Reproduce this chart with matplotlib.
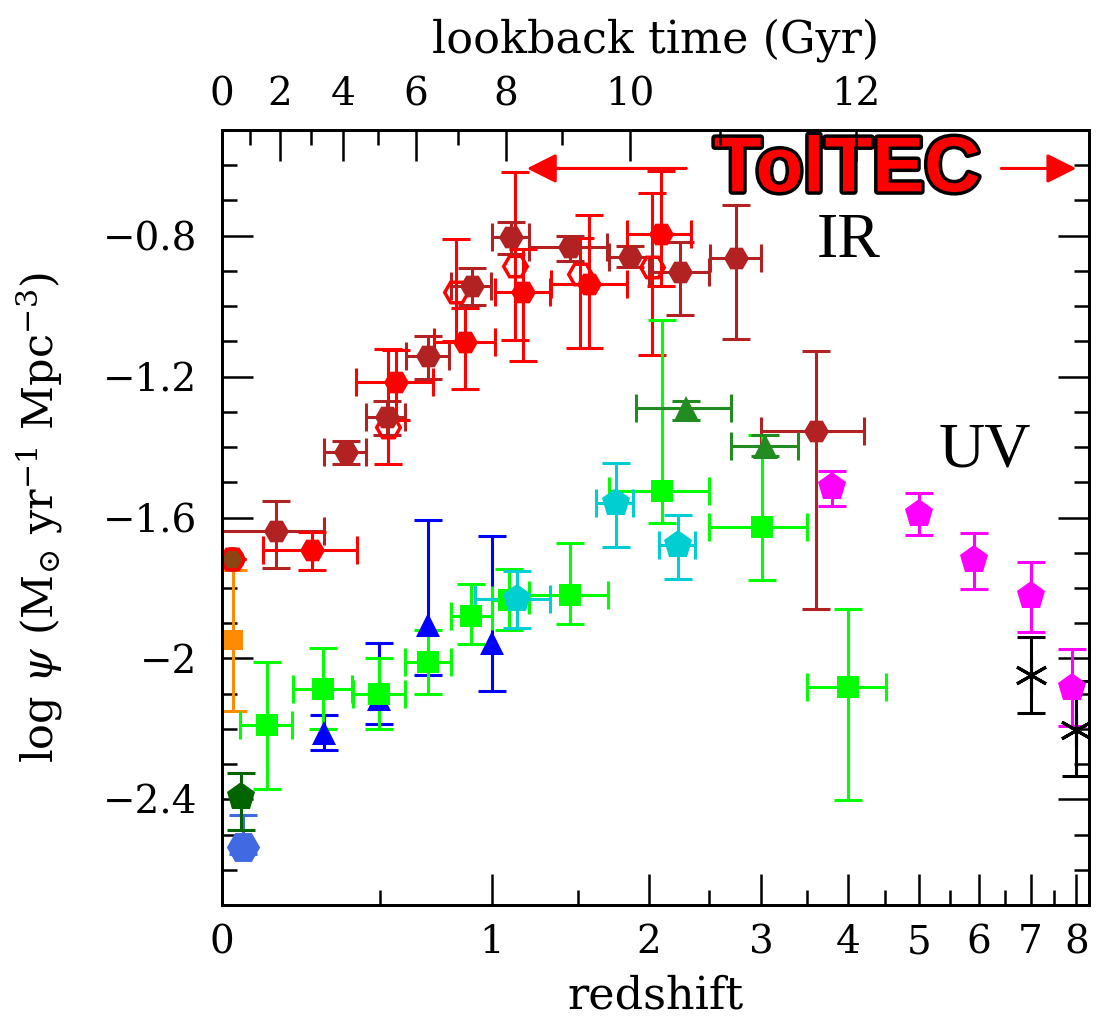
import numpy as np
import matplotlib
matplotlib.use('Agg')
import matplotlib.pyplot as plt
import matplotlib.ticker as mticker
import matplotlib.patheffects as pe

plt.rcParams['font.family'] = 'DejaVu Serif'
plt.rcParams['mathtext.fontset'] = 'dejavuserif'

# ---- data (z, log psi) ----
# IR: filled dark red hexagons
gru_z = [0.149, 0.377, 0.529, 0.699, 0.902, 1.10, 1.447, 1.852, 2.246, 2.748, 3.604]
gru_zlo = [0.0, 0.299, 0.448, 0.604, 0.804, 1.0, 1.2, 1.706, 2.0, 2.51, 3.0]
gru_zhi = [0.299, 0.448, 0.599, 0.792, 0.998, 1.2, 1.693, 2.024, 2.502, 3.004, 4.21]
gru_y = [-1.637, -1.415, -1.315, -1.142, -0.942, -0.805, -0.833, -0.859, -0.904, -0.862, -1.355]
gru_up = [0.083, 0.033, 0.047, 0.057, 0.051, 0.043, 0.033, 0.03, 0.087, 0.149, 0.229]
gru_dn = [0.106, 0.033, 0.05, 0.064, 0.055, 0.047, 0.038, 0.03, 0.12, 0.231, 0.504]

# IR: filled red hexagons
mag11_z = [0.26, 0.566, 0.867, 1.17, 1.57, 2.09]
mag11_zlo = [0.111, 0.413, 0.723, 1.02, 1.33, 1.836]
mag11_zhi = [0.415, 0.719, 1.02, 1.323, 1.836, 2.344]
mag11_y = [-1.692, -1.214, -1.101, -0.959, -0.937, -0.795]
mag11_up = [0.051, 0.09, 0.097, 0.12, 0.196, 0.18]
mag11_dn = [0.058, 0.11, 0.133, 0.196, 0.182, 0.147]

# IR: open red hexagons
mag13_z = [0.026, 0.533, 0.823, 1.122, 1.514, 2.018]
mag13_y = [-1.717, -1.344, -0.959, -0.887, -0.909, -0.888]
mag13_up = [0.0, 0.222, 0.15, 0.267, 0.102, 0.209]
mag13_dn = [0.0, 0.104, 0.14, 0.21, 0.21, 0.25]

san_z, san_y = [0.026], [-1.717]
tak_z, tak_y, tak_err = [0.0285], [-1.948], [0.2]

# UV
wyd_z, wyd_y, wyd_up, wyd_dn = [0.055], [-2.535], [0.09], [0.02]
rob_z, rob_y, rob_up, rob_dn = [0.05], [-2.393], [0.068], [0.095]

sch_z = [0.299, 0.4975, 0.697, 1.0]
sch_y = [-2.213, -2.114, -1.906, -1.956]
sch_up = [0.052, 0.158, 0.30, 0.303]
sch_dn = [0.047, 0.071, 0.140, 0.137]

cuc_z = [0.1226, 0.297, 0.4975, 0.697, 0.899, 1.09, 1.45, 2.097, 3.007, 4.003]
cuc_zlo = [0.048, 0.2, 0.4, 0.6, 0.8, 1.0, 1.2, 1.706, 2.5, 3.5]
cuc_zhi = [0.197, 0.397, 0.6, 0.8, 1.0, 1.2, 1.70, 2.5, 3.506, 4.51]
cuc_y = [-2.188, -2.088, -2.100, -2.010, -1.880, -1.835, -1.821, -1.526, -1.626, -2.081]
cuc_up = [0.178, 0.117, 0.1, 0.09, 0.09, 0.09, 0.15, 0.488, 0.259, 0.22]
cuc_dn = [0.182, 0.111, 0.1, 0.09, 0.078, 0.085, 0.08, 0.09, 0.151, 0.32]

dah_z = [1.136, 1.752, 2.23]
dah_zlo = [0.919, 1.614, 2.076]
dah_zhi = [1.327, 1.88, 2.372]
dah_y = [-1.831, -1.558, -1.679]
dah_up = [0.08, 0.113, 0.085]
dah_dn = [0.084, 0.125, 0.095]

red_z = [2.30, 3.04]
red_zlo = [1.897, 2.70]
red_zhi = [2.70, 3.40]
red_y = [-1.289, -1.396]
red_up = [0.02, 0.03]
red_dn = [0.033, 0.03]

bou_z = [3.806, 5.006, 5.91, 7.007, 7.91]
bou_y = [-1.513, -1.590, -1.72, -1.823, -2.084]
bou_up = [0.045, 0.06, 0.076, 0.096, 0.11]
bou_dn = [0.054, 0.061, 0.082, 0.102, 0.107]

she_z = [7.007, 7.99]
she_y = [-2.048, -2.204]
she_up = [0.11, 0.14]
she_dn = [0.107, 0.131]

# TolTEC coverage arrows (redshift)
toltec_left = (2.30, 1.19)
toltec_right = (6.42, 8.0)
toltec_y = -0.609

lookback_major = [0, 2, 4, 6, 8, 10, 12]
lookback_minor = [1, 3, 5, 7, 9, 11]
z_major = [0, 1, 2, 3, 4, 5, 6, 7, 8]
z_minor = [0.5, 1.5, 2.5, 3.5, 4.5, 5.5, 6.5, 7.5]


def fwd(z):
    return np.log10(1 + np.asarray(z, dtype=float))


def inv(x):
    return 10 ** np.asarray(x, dtype=float) - 1


# flat LCDM, H0=70, Om=0.3
H0, Om, OL = 70.0, 0.3, 0.7
tH = 977.8 / H0


def age(z):
    return 2 / 3 * tH / np.sqrt(OL) * np.arcsinh(np.sqrt(OL / Om) * (1 + z) ** -1.5)


def z_of_lookback(tl):
    a = age(0) - np.asarray(tl, dtype=float)
    s = np.sinh(a * 1.5 * np.sqrt(OL) / tH)
    return (s / np.sqrt(OL / Om)) ** (-2 / 3) - 1


def xe(z, lo, hi):
    z = np.array(z)
    return [z - np.array(lo), np.array(hi) - z]


def points(ax, z, y, marker, color, ms, xerr=None, yerr=None, open_marker=False):
    c = ax.errorbar(z, y, xerr=xerr, yerr=yerr, fmt=marker, color=color, ms=ms,
                    capsize=10, elinewidth=2.2, capthick=2.2, linestyle='none')
    if open_marker:
        c[0].set_markerfacecolor('none')
        c[0].set_markeredgewidth(2.5)
    else:
        c[0].set_markeredgewidth(0)
    return c


fig = plt.figure(figsize=(11.02, 10.24), dpi=100)
ax = fig.add_axes([0.2015, 0.1162, 0.7868, 0.7568])
ax.set_xscale('function', functions=(fwd, inv))
ax.set_xlim(0, 8.3)
ax.set_ylim(-2.7, -0.5)

points(ax, tak_z, tak_y, 's', 'darkorange', 14, yerr=tak_err)
points(ax, san_z, san_y, 'o', 'saddlebrown', 18)
points(ax, mag13_z, mag13_y, 'H', 'red', 17, yerr=[mag13_dn, mag13_up], open_marker=True)
points(ax, gru_z, gru_y, 'H', 'firebrick', 18, xerr=xe(gru_z, gru_zlo, gru_zhi), yerr=[gru_dn, gru_up])
points(ax, mag11_z, mag11_y, 'H', 'red', 18, xerr=xe(mag11_z, mag11_zlo, mag11_zhi),
       yerr=[mag11_dn, mag11_up])

points(ax, wyd_z, wyd_y, 'H', 'royalblue', 24, yerr=[wyd_dn, wyd_up])
points(ax, rob_z, rob_y, 'p', 'darkgreen', 21, yerr=[rob_dn, rob_up])
points(ax, sch_z, sch_y, '^', 'blue', 17, yerr=[sch_dn, sch_up])
points(ax, cuc_z, cuc_y, 's', 'lime', 16, xerr=xe(cuc_z, cuc_zlo, cuc_zhi), yerr=[cuc_dn, cuc_up])
points(ax, dah_z, dah_y, 'p', 'darkturquoise', 21, xerr=xe(dah_z, dah_zlo, dah_zhi), yerr=[dah_dn, dah_up])
points(ax, red_z, red_y, '^', 'forestgreen', 18, xerr=xe(red_z, red_zlo, red_zhi), yerr=[red_dn, red_up])
points(ax, bou_z, bou_y, 'p', 'magenta', 21, yerr=[bou_dn, bou_up])
ax.errorbar(she_z, she_y, yerr=[she_dn, she_up], fmt='none', ecolor='black', capsize=10,
            elinewidth=2.2, capthick=2.2)
ax.plot(she_z, she_y, linestyle='none', marker=(6, 2, 0), color='black', ms=24, mew=2.2)

# TolTEC arrows and labels
for x0, x1 in (toltec_left, toltec_right):
    ax.annotate('', xy=(x1, toltec_y), xytext=(x0, toltec_y),
                arrowprops=dict(arrowstyle='-|>', color='red', lw=2.2, mutation_scale=45,
                                shrinkA=0, shrinkB=0))
t = ax.text(3.99, -0.674, 'TolTEC', ha='center', va='baseline', color='red', fontsize=56,
            fontweight='bold', family='Liberation Sans')
t.set_path_effects([pe.Stroke(linewidth=5, foreground='black'), pe.Normal()])
ax.text(4.01, -0.861, 'IR', ha='center', va='baseline', fontsize=46, family='Liberation Serif')
ax.text(6.11, -1.456, 'UV', ha='center', va='baseline', fontsize=46, family='Liberation Serif')

# axes styling
for s in ax.spines.values():
    s.set_linewidth(2)
ax.xaxis.set_major_locator(mticker.FixedLocator(z_major))
ax.xaxis.set_minor_locator(mticker.FixedLocator(z_minor))
ax.xaxis.set_major_formatter(mticker.FuncFormatter(lambda v, p: f'{v:g}'))
ax.yaxis.set_major_locator(mticker.MultipleLocator(0.4))
ax.yaxis.set_minor_locator(mticker.MultipleLocator(0.1))
ax.yaxis.set_major_formatter(mticker.FuncFormatter(
    lambda v, p: f'{v:.1f}'.rstrip('0').rstrip('.').replace('-', '\u2212')))
ax.tick_params(which='both', direction='in', top=False, right=True, width=1.8, labelsize=28)
ax.tick_params(which='major', length=22)
ax.tick_params(which='minor', length=11)
ax.tick_params(axis='x', pad=14)
ax.tick_params(axis='y', pad=18)

ax.set_xlabel('redshift', fontsize=32)
ax.xaxis.set_label_coords(0.5, -0.09)
ax.set_ylabel(r'log $\psi$ (M$_{\odot}$ yr$^{-1}$ Mpc$^{-3}$)', fontsize=31)
ax.yaxis.set_label_coords(-0.181, 0.5)

ax2 = ax.twiny()
ax2.set_xscale('function', functions=(fwd, inv))
ax2.set_xlim(ax.get_xlim())
ax2.xaxis.set_major_locator(mticker.FixedLocator(z_of_lookback(lookback_major)))
ax2.xaxis.set_minor_locator(mticker.FixedLocator(z_of_lookback(lookback_minor)))
ax2.xaxis.set_major_formatter(mticker.FixedFormatter([str(v) for v in lookback_major]))
ax2.xaxis.set_minor_formatter(mticker.NullFormatter())
ax2.tick_params(which='both', direction='in', width=1.8, labelsize=28, pad=12)
ax2.tick_params(which='major', length=22)
ax2.tick_params(which='minor', length=11)
ax2.set_xlabel('lookback time (Gyr)', fontsize=32)
ax2.xaxis.set_label_coords(0.5, 1.1)
for s in ax2.spines.values():
    s.set_linewidth(2)

fig.savefig('out.png', dpi=100)
